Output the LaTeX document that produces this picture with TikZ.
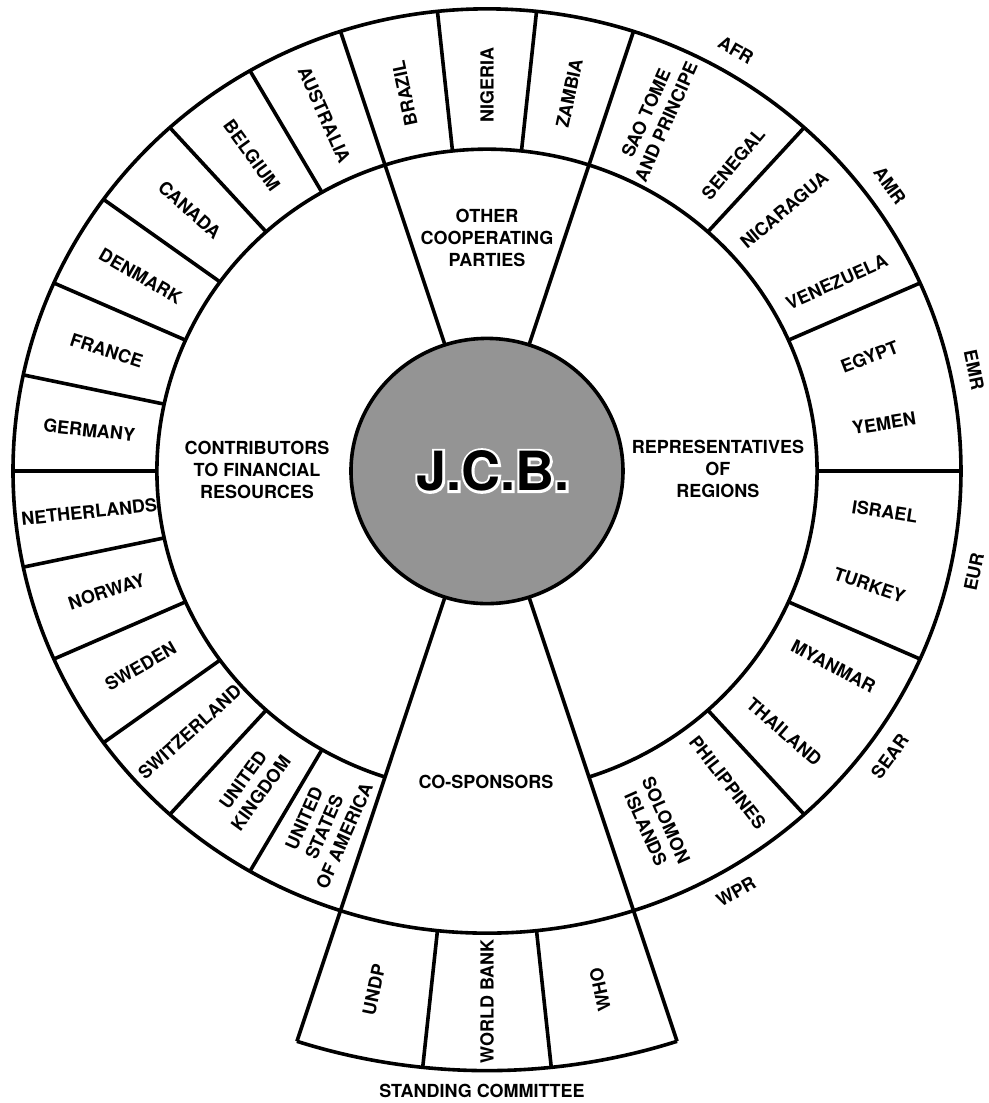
\documentclass[tikz,border=0pt]{standalone}
\usepackage{fontspec}
\setmainfont{TeX Gyre Heros}
\usepackage{tikz}

\begin{document}
\begin{tikzpicture}[x=1pt, y=0.975pt, line width=3.6pt,
        lbl/.style={font=\bfseries\fontsize{18}{22}\selectfont, align=center, inner sep=0pt},
        jcbfont/.style={font=\bfseries\fontsize{54}{54}\selectfont, inner sep=0pt}]
        \useasboundingbox (-487,-648.2) rectangle (502,483.1);

        % Rings
        \draw (0,0) circle[radius=474];
        \draw (-72:330) arc[start angle=-72, end angle=252, radius=330];
        \draw (252:615) arc[start angle=252, end angle=288, radius=615];

        % Sector boundaries
        \foreach \a in {72,108} \draw (\a:136) -- (\a:474);
        \foreach \a in {252,288} \draw (\a:136) -- (\a:615);
        \foreach \a in {84,96} \draw (\a:330) -- (\a:474);
        \foreach \a in {120,132,...,240} \draw (\a:330) -- (\a:474);
        \foreach \a in {-48,-24,...,48} \draw (\a:330) -- (\a:474);
        \foreach \a in {264,276} \draw (\a:474) -- (\a:615);

        % J.C.B. centre, white outline behind the letters
        \draw[fill=black!42] (0,0) circle[radius=136];
        \node[jcbfont, white] (jcbhalo) at (6,0)
            {\special{pdf:literal direct 1 Tr 5 w 1 1 1 RG}J.C.B.\special{pdf:literal direct 0 Tr}};
        \node[jcbfont] (jcb) at (6,0) {J.C.B.};

        % Sector titles
        \node[lbl] (contrib) at (-230,1) {CONTRIBUTORS\\TO FINANCIAL\\RESOURCES};
        \node[lbl] (repr) at (231,2) {REPRESENTATIVES\\OF\\REGIONS};
        \node[lbl] (other) at (0,239) {OTHER\\COOPERATING\\PARTIES};
        \node[lbl] (cospons) at (-1,-319) {CO-SPONSORS};
        \node[lbl] (standing) at (-5,-636) {STANDING COMMITTEE};

        % Contributors to financial resources
        \foreach \a/\txt [count=\i] in {114/AUSTRALIA, 126/BELGIUM, 138/CANADA, 150/DENMARK,
                162/FRANCE, 174/GERMANY, 186/NETHERLANDS, 198/NORWAY, 210/SWEDEN,
                222/SWITZERLAND, 234/UNITED\\KINGDOM, 246/UNITED\\STATES\\OF AMERICA}
            \node[lbl, rotate=\a-180] (contr\i) at (\a:400) {\txt};

        % Other cooperating parties
        \foreach \a/\txt [count=\i] in {102/BRAZIL, 90/NIGERIA, 78/ZAMBIA}
            \node[lbl, rotate=\a] (other\i) at (\a:396) {\txt};

        % Representatives of regions
        \foreach \a/\rot/\txt [count=\i] in {65/66/SAO TOME\\AND PRINCIPE, 52/50/SENEGAL,
                42/40/NICARAGUA, 29/24/VENEZUELA, 17/21/EGYPT, 7/9/YEMEN, -6/-9/ISRAEL,
                -17/-19/TURKEY, -30/-28/MYANMAR, -42/-41/THAILAND, -53/-52/PHILIPPINES,
                -65/-66/SOLOMON\\ISLANDS}
            \node[lbl, rotate=\rot] (rep\i) at (\a:400) {\txt};

        % Regions
        \foreach \a/\txt in {60/AFR, 36/AMR, 12/EMR}
            \node[lbl, rotate=\a-90] (\txt) at (\a:498) {\txt};
        \foreach \a/\txt in {-12/EUR, -36/SEAR, -60/WPR}
            \node[lbl, rotate=\a+90] (\txt) at (\a:498) {\txt};

        % Standing committee
        \foreach \a/\txt [count=\i] in {258/UNDP, 270/WORLD BANK, 282/WHO}
            \node[lbl, rotate=\a-180] (stand\i) at (\a:544) {\txt};
    \end{tikzpicture}
\end{document}
